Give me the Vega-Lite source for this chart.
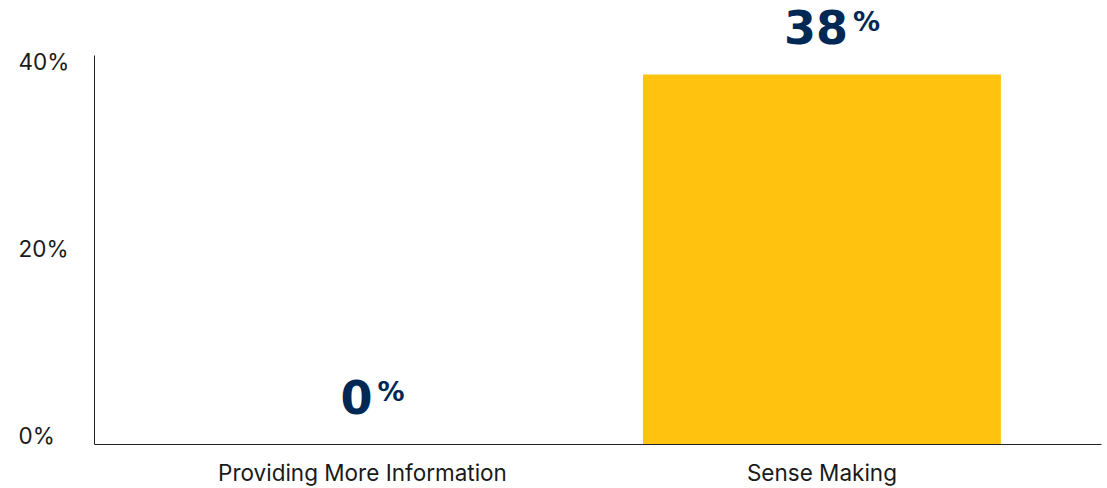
{
  "$schema": "https://vega.github.io/schema/vega-lite/v6.json",
  "width": 1007,
  "height": 389,
  "autosize": {"type": "none"},
  "padding": {"left": 94, "top": 55, "right": 6, "bottom": 44},
  "background": "white",
  "config": {
    "view": {"stroke": null},
    "font": "Inter",
    "axis": {"labelFont": "Inter", "labelColor": "#1a1a1a", "domainColor": "#222222", "domainWidth": 1, "grid": false, "ticks": false, "tickSize": 0, "title": null, "labelLimit": 0}
  },
  "data": {
    "values": [
      {"category": "Providing More Information", "value": 0},
      {"category": "Sense Making", "value": 38}
    ]
  },
  "encoding": {
    "x": {
      "field": "category",
      "type": "nominal",
      "sort": null,
      "scale": {"paddingInner": 0.221, "paddingOuter": 0.2063, "align": 0.472},
      "axis": {"labelAngle": 0, "labelFontSize": 22.5, "labelPadding": 18}
    },
    "y": {
      "field": "value",
      "type": "quantitative",
      "scale": {"domain": [0, 40], "nice": false},
      "axis": {"values": [0, 20, 40], "labelExpr": "datum.value + '%'", "labelFontSize": 22.5, "labelAlign": "left", "labelPadding": 76, "labelFlush": true, "labelFlushOffset": 4}
    }
  },
  "layer": [
    {"mark": {"type": "bar", "color": "#FFC20E"}},
    {
      "mark": {"type": "text", "align": "center", "baseline": "alphabetic", "dy": -30, "dx": -6, "fontSize": 46, "fontWeight": "bold", "color": "#002855", "font": "DejaVu Sans"},
      "encoding": {"text": {"field": "value", "type": "quantitative"}}
    },
    {
      "mark": {"type": "text", "align": "left", "baseline": "alphabetic", "dy": -43, "dx": {"expr": "length(toString(datum.value)) * 16 - 1"}, "fontSize": 27, "fontWeight": "bold", "color": "#002855", "font": "DejaVu Sans"},
      "encoding": {"text": {"value": "%"}}
    }
  ]
}
